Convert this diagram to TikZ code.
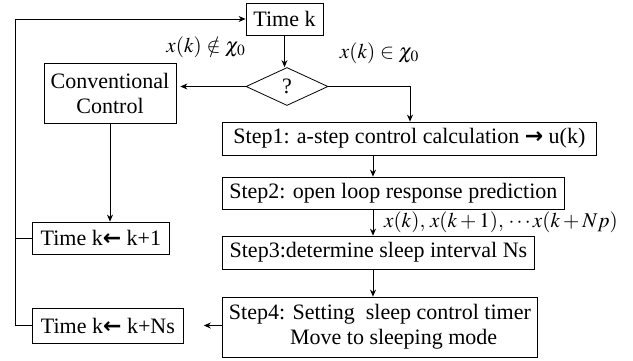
\documentclass[tikz,border=0pt]{standalone}
\usepackage{amsmath,amssymb}
\usepackage{mathptmx}
\usepackage{fontspec}
\setmainfont{Liberation Serif}
\newfontfamily\arrowfont{DejaVu Sans}
\newcommand{\barrow}[1]{{\arrowfont\bfseries #1}}
\usetikzlibrary{arrows.meta,positioning,shapes.geometric,calc}
\tikzset{
  fb/.style={draw, line width=0.8pt, align=center, inner xsep=3pt, inner ysep=0pt,
             minimum height=33pt, font=\fontsize{22}{25}\selectfont},
  fq/.style={draw, diamond, line width=0.8pt, inner sep=0pt, minimum width=82pt,
             minimum height=38pt, font=\fontsize{22}{25}\selectfont},
  lbl/.style={inner sep=0pt, font=\fontsize{21}{24}\selectfont},
  ar/.style={-{Stealth[length=7pt,width=6pt]}, line width=0.8pt},
  ln/.style={line width=0.8pt},
}
\begin{document}
\begin{tikzpicture}[x=1pt,y=-1pt]
  \useasboundingbox (0,0) rectangle (633,360);
  % top and decision
  \node[fb, minimum width=77pt, minimum height=32pt] (tk) at (284.5,19) {Time k};
  \node[fq] (q) at (287,86.5) {?};
  \node[fb, minimum width=132pt, minimum height=60pt] (cc) at (110,93) {Conventional\\Control};
  % sleep control steps
  \node[fb, anchor=west, minimum width=374pt] (s1) at (222,138.5) {Step1: a-step control calculation \barrow{→} u(k)};
  \node[fb, anchor=west, minimum width=342pt, minimum height=32pt] (s2) at (222,193) {Step2: open loop response prediction};
  \node[fb, anchor=west, minimum width=312pt] (s3) at (222,252.5) {Step3:determine sleep interval Ns};
  \node[fb, anchor=west, minimum width=315pt, minimum height=60pt] (s4) at (222,327) {Step4: Setting\ \ sleep control timer\\\ \ \ \ \ Move to sleeping mode};
  % time update
  \node[fb, anchor=west, minimum width=137pt, minimum height=32pt] (t1) at (32,238) {Time k\barrow{←} k+1};
  \node[fb, anchor=west, minimum width=151pt, minimum height=35pt] (tns) at (32,325.5) {Time k\barrow{←} k+Ns};
  % labels
  \node[lbl] (lout) at (206,47) {$x(k)\notin\chi_0$};
  \node[lbl] (lin) at (379.5,53) {$x(k)\in\chi_0$};
  \node[lbl] (lpred) at (501,222) {$x(k),\,x(k+1),\,\cdots x(k+Np)$};
  \coordinate (jq) at (410,0);
  \coordinate (js) at (373,0);
  \coordinate (jl) at (15,0);
  \draw[ar] (tk) -- (tk |- q.north);
  \draw[ar, shorten >=4pt] (q.west) -- (q.west -| cc.east);
  \draw[ar] (q.east) -| (s1.north -| jq);
  \draw[ar] (cc) -- (cc |- t1.north);
  \draw[ar] (s1.south -| js) -- (s2.north -| js);
  \draw[ar] (s2.south -| js) -- (s3.north -| js);
  \draw[ar] (s3.south -| js) -- (s4.north -| js);
  \draw[ar, shorten >=20pt] (tns.east -| s4.west) -- (tns.east);
  \draw[ln] (t1.west) -- (t1.west -| jl);
  \draw[ar] (tns.west) -- (tns.west -| jl) |- (tk.west);
\end{tikzpicture}
\end{document}
